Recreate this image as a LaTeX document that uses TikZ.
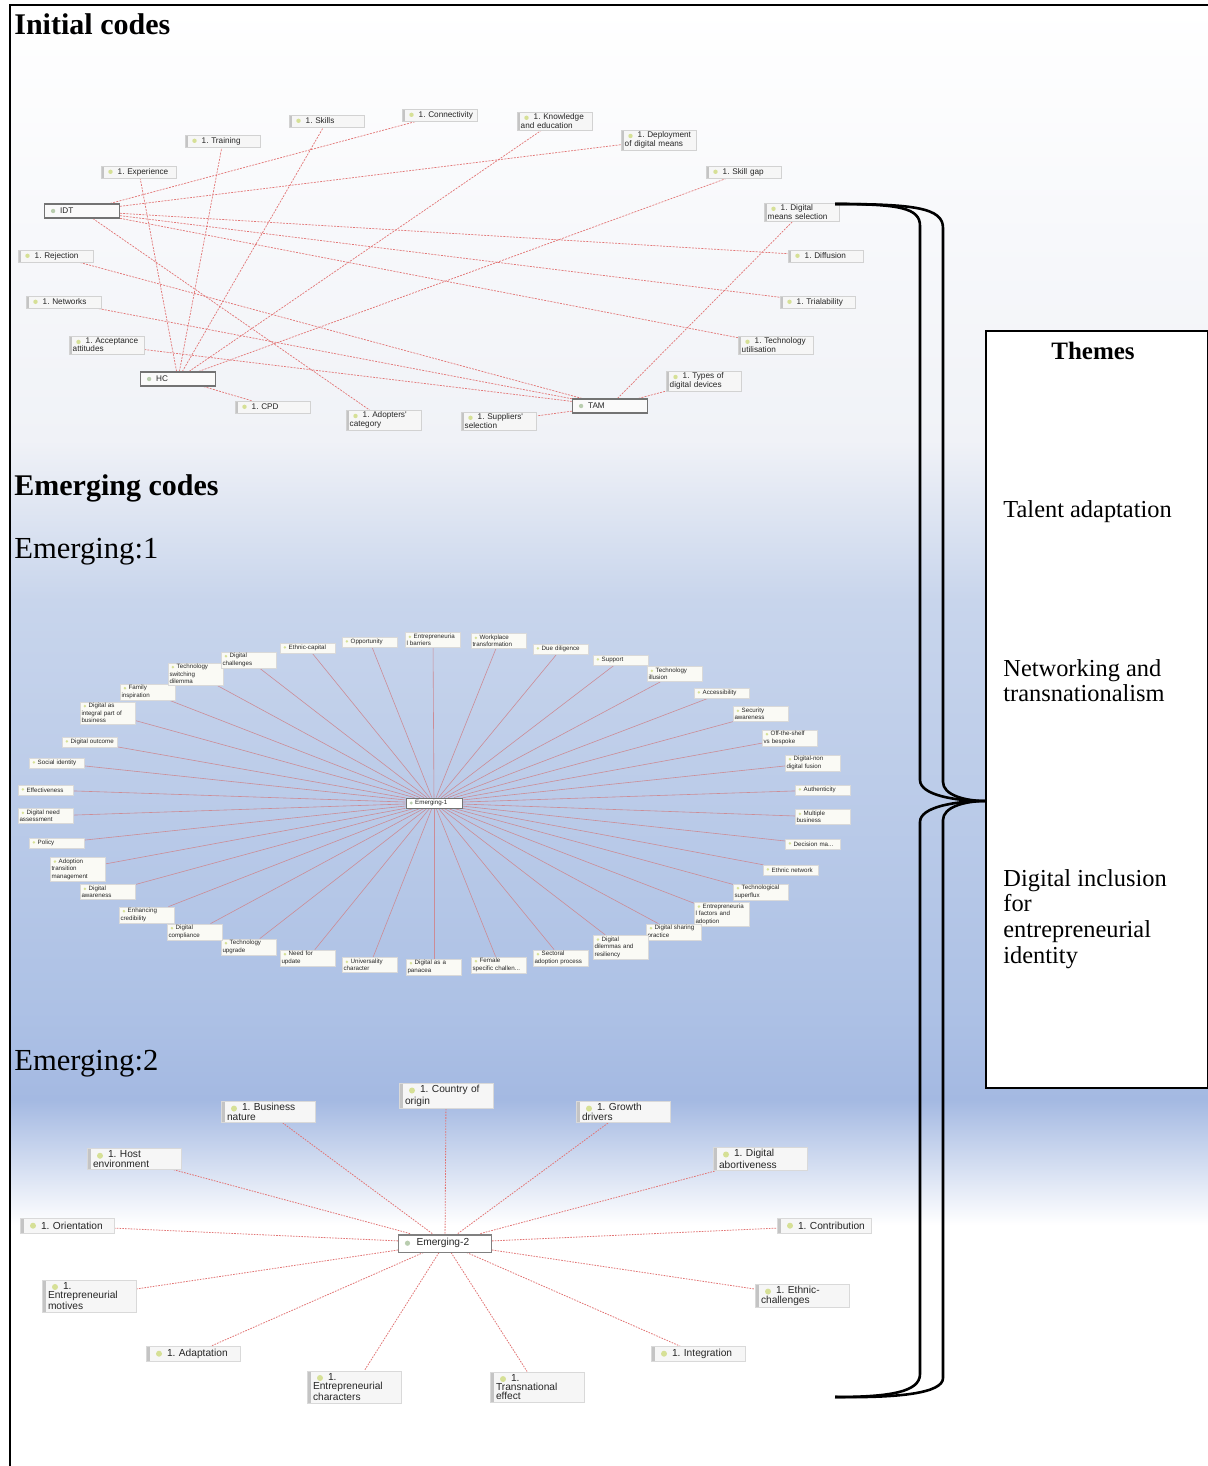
\documentclass[tikz,border=0pt]{standalone}
\usepackage{fontspec}
\setmainfont{Liberation Serif}
\newfontfamily\labfont{Liberation Sans}
\hyphenpenalty=10000
\exhyphenpenalty=10000
\frenchspacing
\definecolor{linkred}{RGB}{226,116,116}
\definecolor{spokered}{RGB}{204,140,150}
\definecolor{tagicon}{RGB}{214,224,150}
\definecolor{hubicon}{RGB}{185,205,175}
\definecolor{tagbar}{RGB}{196,196,196}
\definecolor{tagfill}{RGB}{246,246,246}
\definecolor{leaffill}{RGB}{250,250,245}
\definecolor{skyA}{RGB}{240,242,247}
\definecolor{skyB}{RGB}{200,213,236}
\definecolor{skyC}{RGB}{173,193,229}
\definecolor{skyD}{RGB}{164,185,226}
\pgfdeclarelayer{backdrop}
\pgfdeclarelayer{links}
\pgfsetlayers{backdrop,links,main}
% first-line indents that leave room for the code icon
\newcommand\tagind{\hspace*{6.5pt}}
\newcommand\leafind{\hspace*{3.6pt}}
\newcommand\bigind{\hspace*{7.5pt}}
\tikzset{
  tagbox/.style={draw=gray!35, fill=tagfill, line width=0.25pt,
    inner xsep=1.6pt, inner ysep=0.9pt, text width=34.3pt, minimum height=6pt,
    align=left, text=black!85, font=\labfont\fontsize{4.1}{4.2}\selectfont,
    path picture={
      \fill[tagbar] (path picture bounding box.north west) rectangle
        ([xshift=1.4pt]path picture bounding box.south west);
      \fill[tagicon] ([xshift=4.5pt,yshift=-2.9pt]path picture bounding box.north west) circle (1.1pt);
    }},
  hubbox/.style={draw=black!55, fill=gray!4, line width=0.55pt,
    inner xsep=1.3pt, inner ysep=0.9pt, text width=34.9pt, minimum height=7pt,
    align=left, text=black!85, font=\labfont\fontsize{4.1}{4.2}\selectfont,
    path picture={
      \fill[hubicon] ([xshift=4.3pt,yshift=-3.5pt]path picture bounding box.north west) circle (1.1pt);
    }},
  leafbox/.style={draw=gray!30, fill=leaffill, line width=0.2pt,
    inner xsep=0.5pt, inner ysep=0.8pt, text width=26.5pt, minimum height=5pt,
    align=left, text=black!85, font=\labfont\fontsize{3.1}{3.7}\selectfont,
    path picture={
      \fill[tagicon] ([xshift=2.2pt,yshift=-2.2pt]path picture bounding box.north west) circle (0.7pt);
    }},
  leafhub/.style={draw=black!55, fill=white, line width=0.4pt,
    inner xsep=1pt, inner ysep=0.8pt, text width=26pt, minimum height=5pt,
    align=left, text=black!85, font=\labfont\fontsize{3.1}{3.7}\selectfont,
    path picture={
      \fill[hubicon] ([xshift=2.6pt,yshift=-2.5pt]path picture bounding box.north west) circle (0.8pt);
    }},
  bigbox/.style={draw=gray!30, fill=tagfill, line width=0.3pt,
    inner xsep=3pt, inner ysep=1.1pt, text width=41pt, minimum height=7.5pt,
    align=left, text=black!85, font=\labfont\fontsize{5.1}{4.7}\selectfont,
    path picture={
      \fill[tagbar] (path picture bounding box.north west) rectangle
        ([xshift=1.8pt]path picture bounding box.south west);
      \fill[tagicon] ([xshift=6.5pt,yshift=-3.6pt]path picture bounding box.north west) circle (1.5pt);
    }},
  bighub/.style={draw=black!50, fill=white, line width=0.45pt,
    inner xsep=1.5pt, inner ysep=1.2pt, text width=43.5pt, minimum height=9pt,
    align=left, text=black!85, font=\labfont\fontsize{5.1}{5}\selectfont,
    path picture={
      \fill[black!50] (path picture bounding box.north west) rectangle
        ([yshift=-1pt]path picture bounding box.north east);
      \fill[hubicon] ([xshift=4.5pt,yshift=-4.6pt]path picture bounding box.north west) circle (1.3pt);
    }},
  initlink/.style={draw=linkred, line width=0.35pt, dash pattern=on 1pt off 0.6pt},
  spoke/.style={draw=spokered, line width=0.3pt},
  e2link/.style={draw=linkred, line width=0.4pt, dash pattern=on 0.8pt off 0.6pt},
  heading/.style={anchor=base west, inner sep=0, font=\bfseries\fontsize{15}{18}\selectfont},
  subheading/.style={anchor=base west, inner sep=0, font=\fontsize{15.3}{18}\selectfont},
  themetext/.style={anchor=north west, inner sep=0, align=left, font=\fontsize{12.2}{12.8}\selectfont},
  bracestroke/.style={line width=1.3pt, black},
}
\begin{document}
\begin{tikzpicture}[x=0.5pt,y=-0.5pt]
\useasboundingbox (0,0) rectangle (1208,1466);

% ---------- page backdrop ----------
\begin{pgfonlayer}{backdrop}
  \fill[white] (0,0) rectangle (1208,1466);
  \shade[top color=white, bottom color=skyA] (11,6) rectangle (1208,440);
  \shade[top color=skyA, bottom color=skyB] (11,440) rectangle (1208,600);
  \shade[top color=skyB, bottom color=skyC] (11,600) rectangle (1208,1010);
  \shade[top color=skyC, bottom color=skyD] (11,1010) rectangle (1208,1100);
  \shade[top color=skyD, bottom color=white] (11,1100) rectangle (1208,1225);
  \draw[line width=1.4pt] (10,1466) -- (10,5) -- (1208,5);
\end{pgfonlayer}

% ---------- headings ----------
\node[heading] (hInit) at (14,35) {Initial codes};
\node[heading] (hEmerg) at (14,495) {Emerging codes};
\node[subheading] (hOne) at (14,558) {Emerging:1};
\node[subheading] (hTwo) at (14,1070) {Emerging:2};

% ---------- initial codes ----------
\node[hubbox] (idt) at (82,211) {\tagind IDT};
\node[hubbox] (hc) at (178,379) {\tagind HC};
\node[hubbox] (tam) at (610,406) {\tagind TAM};

\node[tagbox] (skills) at (327,121) {\tagind 1. Skills};
\node[tagbox] (conn) at (440,115) {\tagind 1. Connectivity};
\node[tagbox] (know) at (555,121) {\tagind 1. Knowledge\\and education};
\node[tagbox] (deploy) at (659,140) {\tagind 1. Deployment\\of digital means};
\node[tagbox] (train) at (223,141) {\tagind 1. Training};
\node[tagbox] (exper) at (139,172) {\tagind 1. Experience};
\node[tagbox] (skgap) at (744,172) {\tagind 1. Skill gap};
\node[tagbox] (dmsel) at (802,212) {\tagind 1. Digital\\means selection};
\node[tagbox] (reject) at (56,256) {\tagind 1. Rejection};
\node[tagbox] (diff) at (826,256) {\tagind 1. Diffusion};
\node[tagbox] (netw) at (64,302) {\tagind 1. Networks};
\node[tagbox] (trial) at (818,302) {\tagind 1. Trialability};
\node[tagbox] (accept) at (107,345) {\tagind 1. Acceptance\\attitudes};
\node[tagbox] (techu) at (776,345) {\tagind 1. Technology\\utilisation};
\node[tagbox] (types) at (704,381) {\tagind 1. Types of\\digital devices};
\node[tagbox] (cpd) at (273,407) {\tagind 1. CPD};
\node[tagbox] (adopt) at (384,420) {\tagind 1. Adopters'\\category};
\node[tagbox] (suppl) at (499,421) {\tagind 1. Suppliers'\\selection};

\begin{pgfonlayer}{links}
  \foreach \t in {conn,deploy,diff,trial,techu,adopt} \draw[initlink] (idt) -- (\t);
  \foreach \t in {exper,train,skills,know,skgap,cpd} \draw[initlink] (hc) -- (\t);
  \foreach \t in {reject,netw,accept,dmsel,types,suppl} \draw[initlink] (tam) -- (\t);
\end{pgfonlayer}

% ---------- Emerging-1 ----------
\node[leafhub] (eone) at (434,803) {\leafind Emerging-1};
\foreach \nm/\px/\py/\tx in {
  ebar/433/640/{Entrepreneuria\\l barriers},
  ework/499/641/{Workplace\\transformation},
  edue/561/649/{Due diligence},
  esup/621/660/{Support},
  eillu/675/674/{Technology\\illusion},
  eacc/722/693/{Accessibility},
  esec/761/714/{Security\\awareness},
  eoff/790/738/{Off-the-shelf\\vs bespoke},
  efus/813/763/{Digital-non\\digital fusion},
  eauth/823/790/{Authenticity},
  emult/823/817/{Multiple\\business},
  edec/813/844/{Decision ma...},
  eethn/791/870/{Ethnic network},
  esupf/761/892/{Technological\\superflux},
  efac/722/914/{Entrepreneuria\\l factors and\\adoption},
  eshar/674/932/{Digital sharing\\practice},
  edil/621/947/{Digital\\dilemmas and\\resiliency},
  esect/561/958/{Sectoral\\adoption process},
  efem/499/965/{Female\\specific challen...},
  epan/434/967/{Digital as a\\panacea},
  euniv/370/965/{Universality\\character},
  eneed/308/958/{Need for\\update},
  eupg/249/947/{Technology\\upgrade},
  ecomp/195/932/{Digital\\compliance},
  ecred/147/915/{Enhancing\\credibility},
  eaware/108/892/{Digital\\awareness},
  etrans/78/869/{Adoption\\transition\\management},
  epol/57/843/{Policy},
  eneeda/46/816/{Digital need\\assessment},
  eeff/46/790/{Effectiveness},
  esoc/57/763/{Social identity},
  eout/90/742/{Digital outcome},
  eint/108/713/{Digital as\\integral part of\\business},
  efam/148/692/{Family\\inspiration},
  eswit/196/674/{Technology\\switching\\dilemma},
  echal/249/660/{Digital\\challenges},
  ecap/308/648/{Ethnic-capital},
  eopp/370/642/{Opportunity}} {
  \node[leafbox] (\nm) at (\px,\py) {\leafind\tx};
  \begin{pgfonlayer}{links}
    \draw[spoke] (eone) -- (\nm);
  \end{pgfonlayer}
}

% ---------- Emerging-2 ----------
\node[bighub] (etwo) at (445,1243) {\bigind Emerging-2};
\foreach \nm/\px/\py/\tx in {
  fcoun/446/1096/{1. Country of\\origin},
  fbus/268/1112/{1. Business\\nature},
  fhost/134/1159/{1. Host\\environment},
  fori/67/1226/{1. Orientation},
  fmot/89/1296/{1.\\Entrepreneurial\\motives},
  fadap/193/1354/{1. Adaptation},
  fchar/354/1387/{1.\\Entrepreneurial\\characters},
  ftran/537/1387/{1.\\Transnational\\effect},
  finteg/698/1354/{1. Integration},
  fethn/802/1296/{1. Ethnic-\\challenges},
  fcont/824/1226/{1. Contribution},
  fdig/760/1159/{1. Digital\\abortiveness},
  fgrow/623/1112/{1. Growth\\drivers}} {
  \node[bigbox] (\nm) at (\px,\py) {\bigind\tx};
  \begin{pgfonlayer}{links}
    \draw[e2link] (etwo) -- (\nm);
  \end{pgfonlayer}
}

% ---------- themes panel ----------
\node[draw, line width=1pt, fill=white, anchor=north west, inner sep=0,
      minimum width=111pt, minimum height=378.5pt] (themes) at (985,330) {};
\node[anchor=base, inner sep=0, font=\bfseries\fontsize{12.5}{14}\selectfont] (thTitle) at (1093,359) {Themes};
\node[themetext] (thOne) at (1003,500) {Talent adaptation};
\node[themetext] (thTwo) at (1003,659) {Networking and\\transnationalism};
\node[themetext] (thThree) at (1003,869) {Digital inclusion\\for\\entrepreneurial\\identity};

% ---------- double brace towards the themes panel ----------
\coordinate (braceTop) at (835,204);
\coordinate (braceTip) at (985,801);
\coordinate (braceEnd) at (835,1397);
\draw[bracestroke] (braceTop) .. controls (900,204) and (920,208) .. (920,226)
  -- (920,780) .. controls (920,795) and (955,801) .. (braceTip)
  .. controls (955,801) and (920,807) .. (920,822)
  -- (920,1374) .. controls (920,1392) and (890,1397) .. (braceEnd);
\draw[bracestroke] (braceTop) .. controls (915,204) and (943,208) .. (943,228)
  -- (943,782) .. controls (943,795) and (965,801) .. (braceTip)
  .. controls (965,801) and (943,807) .. (943,820)
  -- (943,1378) .. controls (943,1393) and (900,1398) .. (braceEnd);
\end{tikzpicture}
\end{document}
